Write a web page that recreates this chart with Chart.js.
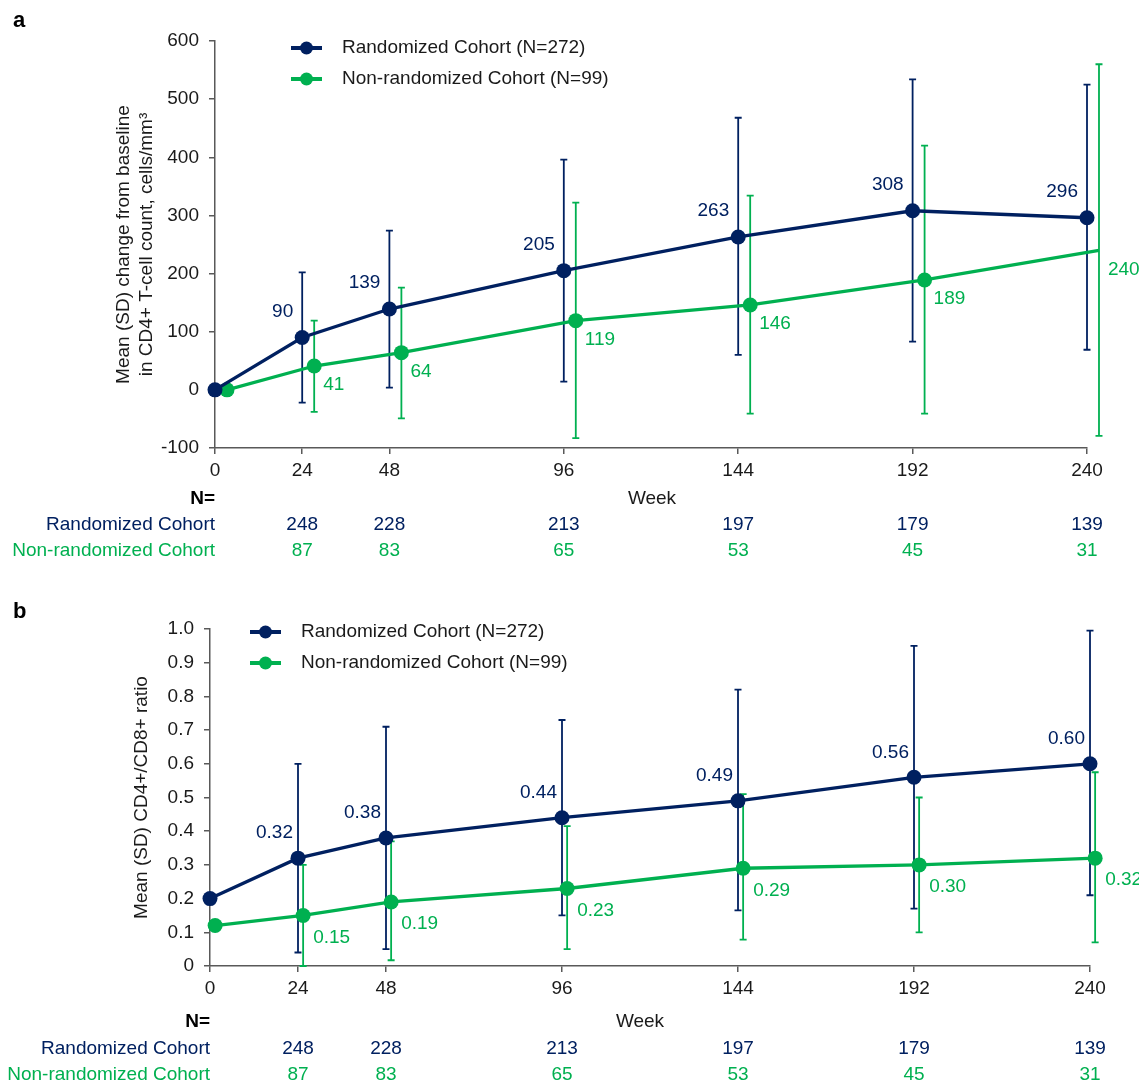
<!DOCTYPE html>
<html>
<head>
<meta charset="utf-8">
<script src="https://cdn.jsdelivr.net/npm/chart.js@4.4.1/dist/chart.umd.min.js"></script>
<style>
    html, body { margin: 0; padding: 0; background: #fff; }
    #wrap { position: relative; width: 1139px; height: 1083px; overflow: hidden; }
    #chartA { position: absolute; left: 0; top: 0; }
    #chartB { position: absolute; left: 0; top: 590px; }
</style>
</head>
<body>
<div id="wrap">
    <canvas id="chartA" width="1139" height="590"></canvas>
    <canvas id="chartB" width="1139" height="493"></canvas>
</div>
<script>
// ======================================================================
//  1. DATA
// ======================================================================

const weeks = [0, 24, 48, 96, 144, 192, 240];
const weekTicks = [0, 24, 48, 96, 144, 192, 240];

// Panel a : change from baseline in CD4+ count
const cd4Randomized      = [0, 90, 139, 205, 263, 308, 296];
const cd4RandomizedUpper = [null, 202, 274, 396, 468, 534, 525];
const cd4RandomizedLower = [null, -22, 4, 14, 60, 83, 69];
const cd4NonRandomized      = [0, 41, 64, 119, 146, 189, 240];
const cd4NonRandomizedUpper = [null, 119, 176, 322, 334, 420, 560];
const cd4NonRandomizedLower = [null, -38, -49, -83, -41, -41, -79];

// Panel b : CD4+/CD8+ ratio
const ratioRandomized      = [0.20, 0.32, 0.38, 0.44, 0.49, 0.56, 0.60];
const ratioRandomizedUpper = [null, 0.60, 0.71, 0.73, 0.82, 0.95, 0.995];
const ratioRandomizedLower = [null, 0.04, 0.05, 0.15, 0.165, 0.17, 0.21];
const ratioNonRandomized      = [0.12, 0.15, 0.19, 0.23, 0.29, 0.30, 0.32];
const ratioNonRandomizedUpper = [null, 0.30, 0.37, 0.415, 0.51, 0.50, 0.575];
const ratioNonRandomizedLower = [null, 0.0, 0.017, 0.05, 0.078, 0.10, 0.07];

// Patients at each visit
const nWeeks = [24, 48, 96, 144, 192, 240];
const nRandomized    = [248, 228, 213, 197, 179, 139];
const nNonRandomized = [87, 83, 65, 53, 45, 31];

const legendLabels = ["Randomized Cohort (N=272)", "Non-randomized Cohort (N=99)"];
const rowLabels = ["Randomized Cohort", "Non-randomized Cohort"];

// ======================================================================
//  2. STYLE
// ======================================================================

const FONT = "'Liberation Sans', Arial, sans-serif";
const NAVY = "#002060";
const GREEN = "#00B050";
const AXIS = "#595959";
const TEXT = "#1a1a1a";

function pointData(values, dodge) {
    return weeks.map((w, i) => ({ x: w + dodge, y: values[i] }));
}

// ======================================================================
//  3. PLUGINS
// ======================================================================

// Vertical SD bars with small caps
const errorBarPlugin = {
    id: "errorBars",
    beforeDatasetsDraw(chart) {
        const ctx = chart.ctx;
        const yScale = chart.scales.y;
        chart.data.datasets.forEach((ds, di) => {
            const meta = chart.getDatasetMeta(di);
            ctx.save();
            ctx.strokeStyle = ds.borderColor;
            ctx.lineWidth = 1.8;
            meta.data.forEach((pt, i) => {
                if (ds.upper[i] == null) return;
                const top = yScale.getPixelForValue(ds.upper[i]);
                const bottom = yScale.getPixelForValue(ds.lower[i]);
                ctx.beginPath();
                ctx.moveTo(pt.x, top);
                ctx.lineTo(pt.x, bottom);
                ctx.moveTo(pt.x - 3.5, top);
                ctx.lineTo(pt.x + 3.5, top);
                ctx.moveTo(pt.x - 3.5, bottom);
                ctx.lineTo(pt.x + 3.5, bottom);
                ctx.stroke();
            });
            ctx.restore();
        });
    }
};

// Mean values next to the points
const valueLabelPlugin = {
    id: "valueLabels",
    afterDatasetsDraw(chart) {
        const ctx = chart.ctx;
        chart.data.datasets.forEach((ds, di) => {
            const meta = chart.getDatasetMeta(di);
            ctx.save();
            ctx.font = `19px ${FONT}`;
            ctx.fillStyle = ds.borderColor;
            ctx.textAlign = ds.labelShift[0] < 0 ? "right" : "left";
            ctx.textBaseline = "middle";
            meta.data.forEach((pt, i) => {
                if (i === 0) return;
                ctx.fillText(ds.labelFormat(ds.data[i].y),
                    pt.x + ds.labelShift[0], pt.y + ds.labelShift[1]);
            });
            ctx.restore();
        });
    }
};

// Panel letter, axis title, legend and N= table
const panelTextPlugin = {
    id: "panelText",
    afterDraw(chart, args, opts) {
        const ctx = chart.ctx;
        const area = chart.chartArea;
        const xScale = chart.scales.x;
        ctx.save();
        ctx.textBaseline = "middle";

        ctx.fillStyle = "#000";
        ctx.font = `bold 22px ${FONT}`;
        ctx.textAlign = "left";
        ctx.fillText(opts.letter, opts.letterX, opts.letterY);

        ctx.font = `19px ${FONT}`;
        ctx.fillStyle = TEXT;
        ctx.textAlign = "center";
        opts.yTitle.forEach((line, k) => {
            ctx.save();
            ctx.translate(opts.yTitleX[k], (area.top + area.bottom) / 2);
            ctx.rotate(-Math.PI / 2);
            ctx.fillText(line, 0, 0);
            ctx.restore();
        });

        [NAVY, GREEN].forEach((color, k) => {
            const y = opts.legendY + k * 31;
            ctx.strokeStyle = color;
            ctx.lineWidth = 4;
            ctx.beginPath();
            ctx.moveTo(opts.legendX, y);
            ctx.lineTo(opts.legendX + 31, y);
            ctx.stroke();
            ctx.fillStyle = color;
            ctx.beginPath();
            ctx.arc(opts.legendX + 15.5, y, 6.5, 0, 2 * Math.PI);
            ctx.fill();
            ctx.fillStyle = TEXT;
            ctx.textAlign = "left";
            ctx.fillText(legendLabels[k], opts.legendX + 51, y);
        });

        const base = area.bottom;
        const rowsY = opts.tableRows;
        ctx.font = `bold 19px ${FONT}`;
        ctx.fillStyle = "#000";
        ctx.textAlign = "right";
        ctx.fillText("N=", area.left, base + rowsY[0]);
        ctx.font = `19px ${FONT}`;
        ctx.fillStyle = TEXT;
        ctx.textAlign = "center";
        ctx.fillText("Week", opts.weekX, base + rowsY[0]);

        [[nRandomized, NAVY], [nNonRandomized, GREEN]].forEach(([values, color], k) => {
            const y = base + rowsY[k + 1];
            ctx.fillStyle = color;
            ctx.textAlign = "right";
            ctx.fillText(rowLabels[k], area.left, y);
            ctx.textAlign = "center";
            values.forEach((v, i) => ctx.fillText(String(v), xScale.getPixelForValue(nWeeks[i]), y));
        });
        ctx.restore();
    }
};

// ======================================================================
//  4. CHART BUILDER
// ======================================================================

function buildPanel(canvasId, p) {
    const canvas = document.getElementById(canvasId);
    const W = canvas.width, H = canvas.height;
    const axisGrid = {
        display: true, drawOnChartArea: false, drawTicks: true,
        tickLength: 6, color: AXIS, lineWidth: 1.5
    };
    const axisBorder = { display: true, color: AXIS, width: 1.5 };

    const series = (values, upper, lower, color, dodge, shift) => ({
        data: pointData(values, dodge),
        upper, lower,
        labelShift: shift, labelFormat: p.labelFormat,
        borderColor: color, backgroundColor: color,
        borderWidth: 3.3, tension: 0, clip: false,
        pointRadius: 7.5, pointHoverRadius: 7.5,
        pointBackgroundColor: color, pointBorderWidth: 0
    });

    return new Chart(canvas.getContext("2d"), {
        type: "line",
        data: {
            datasets: [
                series(p.navy, p.navyUpper, p.navyLower, NAVY, 0, p.navyShift),
                series(p.green, p.greenUpper, p.greenLower, GREEN, p.dodge, p.greenShift)
            ]
        },
        options: {
            responsive: false,
            animation: false,
            events: [],
            layout: { padding: { top: p.area.top, right: W - p.area.right, left: 0, bottom: 0 } },
            plugins: {
                legend: { display: false },
                tooltip: { enabled: false },
                panelText: p.text
            },
            scales: {
                x: {
                    type: "linear",
                    bounds: "data",
                    afterDataLimits(scale) { scale.min = 0; scale.max = 240; },
                    afterBuildTicks(scale) { scale.ticks = weekTicks.map(v => ({ value: v })); },
                    afterFit(scale) { scale.height = H - p.area.bottom; },
                    grid: axisGrid,
                    border: axisBorder,
                    ticks: {
                        font: { family: FONT, size: 19 }, color: TEXT,
                        padding: 5, maxRotation: 0, autoSkip: false
                    }
                },
                y: {
                    min: p.yMin, max: p.yMax,
                    afterFit(scale) { scale.width = p.area.left; },
                    grid: axisGrid,
                    border: axisBorder,
                    ticks: {
                        stepSize: p.yStep,
                        font: { family: FONT, size: 19 }, color: TEXT,
                        padding: 10,
                        callback: p.tickFormat
                    }
                }
            }
        },
        plugins: [errorBarPlugin, valueLabelPlugin, panelTextPlugin]
    });
}

// ======================================================================
//  5. PANELS
// ======================================================================

buildPanel("chartA", {
    navy: cd4Randomized, navyUpper: cd4RandomizedUpper, navyLower: cd4RandomizedLower,
    green: cd4NonRandomized, greenUpper: cd4NonRandomizedUpper, greenLower: cd4NonRandomizedLower,
    dodge: 3.3,
    navyShift: [-9, -26], greenShift: [9, 19],
    labelFormat: v => String(v),
    yMin: -100, yMax: 600, yStep: 100,
    tickFormat: v => String(v),
    area: { left: 215, right: 1087, top: 41, bottom: 448 },
    text: {
        letter: "a", letterX: 13, letterY: 21,
        yTitle: ["Mean (SD) change from baseline", "in CD4+ T-cell count, cells/mm³"],
        yTitleX: [124, 147],
        legendX: 291, legendY: 48,
        weekX: 652,
        tableRows: [51, 77, 103]
    }
});

buildPanel("chartB", {
    navy: ratioRandomized, navyUpper: ratioRandomizedUpper, navyLower: ratioRandomizedLower,
    green: ratioNonRandomized, greenUpper: ratioNonRandomizedUpper, greenLower: ratioNonRandomizedLower,
    dodge: 1.4,
    navyShift: [-5, -25], greenShift: [10, 22],
    labelFormat: v => v.toFixed(2),
    yMin: 0, yMax: 1, yStep: 0.1,
    tickFormat: v => (Math.abs(v) < 1e-9 ? "0" : v.toFixed(1)),
    area: { left: 210, right: 1090, top: 39, bottom: 376 },
    text: {
        letter: "b", letterX: 13, letterY: 22,
        yTitle: ["Mean (SD) CD4+/CD8+ ratio"],
        yTitleX: [142],
        legendX: 250, legendY: 42,
        weekX: 640,
        tableRows: [56, 83, 109]
    }
});
</script>
</body>
</html>
